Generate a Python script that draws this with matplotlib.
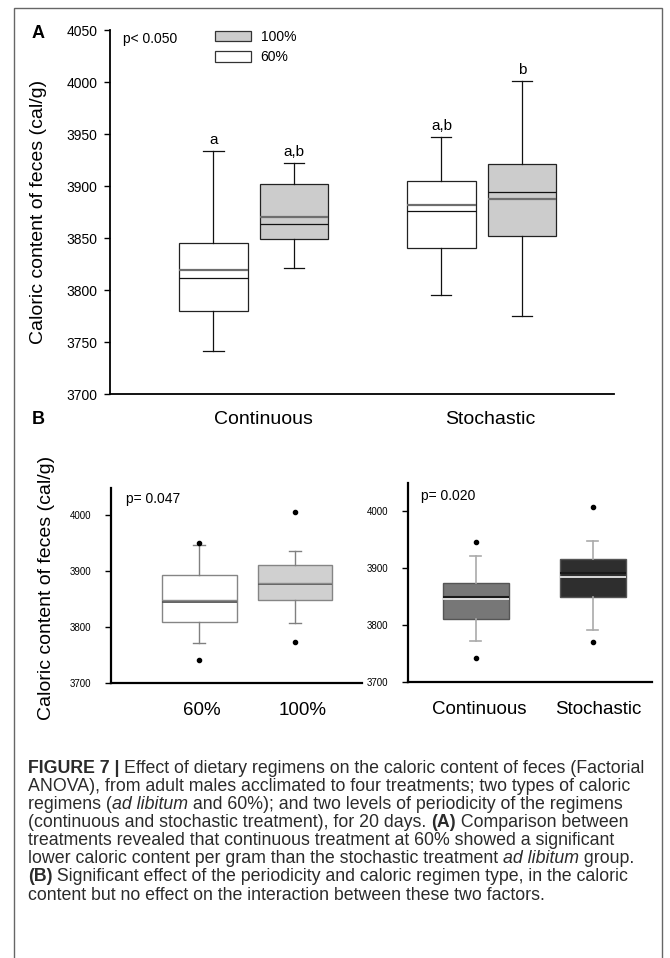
import matplotlib
matplotlib.use("Agg")
import matplotlib.pyplot as plt
import numpy as np
from matplotlib.patches import Patch, Rectangle

plt.rcParams["font.family"] = ["Liberation Sans", "DejaVu Sans"]

W, H = 670, 958

# ---- Panel A: periodicity x caloric regimen (4 treatments) ----
groups_a = ["Continuous", "Stochastic"]
regimens_a = ["60%", "100%"]
# order: Continuous 60%, Continuous 100%, Stochastic 60%, Stochastic 100%
whislo_a = [3741.3, 3820.8, 3794.9, 3775.3]
q1_a = [3779.5, 3848.7, 3840.7, 3851.9]
med_a = [3811.2, 3863.5, 3876.3, 3893.9]
mean_a = [3819.6, 3870.2, 3881.7, 3887.5]
q3_a = [3845.2, 3902.2, 3904.8, 3921.5]
whishi_a = [3933.3, 3922.1, 3946.8, 4001.0]
letters_a = ["a", "a,b", "a,b", "b"]

# ---- Panel B left: caloric regimen ----
labels_b1 = ["60%", "100%"]
whislo_b1 = [3771.4, 3807.1]
q1_b1 = [3808.9, 3848.2]
med_b1 = [3844.6, 3876.5]
mean_b1 = [3847.6, 3878.5]
q3_b1 = [3892.3, 3910.7]
whishi_b1 = [3945.8, 3935.1]
fliers_b1 = [[3741.7, 3949.4], [3773.8, 4005.4]]

# ---- Panel B right: periodicity ----
labels_b2 = ["Continuous", "Stochastic"]
whislo_b2 = [3771.5, 3791.4]
q1_b2 = [3810.7, 3850.0]
med_b2 = [3848.8, 3891.6]
mean_b2 = [3845.9, 3884.0]
q3_b2 = [3874.6, 3916.2]
whishi_b2 = [3920.9, 3948.4]
fliers_b2 = [[3741.6, 3945.5], [3770.3, 4008.2]]


def make_stats(whislo, q1, med, mean, q3, whishi, fliers=None):
    stats = []
    for i in range(len(med)):
        stats.append(dict(whislo=whislo[i], q1=q1[i], med=med[i], mean=mean[i], q3=q3[i],
                          whishi=whishi[i], fliers=fliers[i] if fliers else []))
    return stats


def px_axes(fig, left, top, right, bottom):
    return fig.add_axes([left / W, 1 - bottom / H, (right - left) / W, (bottom - top) / H])


def text_width(fig, s, **kw):
    r = fig.canvas.get_renderer()
    t1 = fig.text(0, 0, "|" + s + "|", **kw)
    t2 = fig.text(0, 0, "||", **kw)
    w = t1.get_window_extent(r).width - t2.get_window_extent(r).width
    t1.remove()
    t2.remove()
    return w


def draw_runs(fig, x_px, y_px, runs, size, color):
    x = x_px
    for text, style in runs:
        kw = dict(fontsize=size, color=color, **style)
        fig.text(x / W, 1 - y_px / H, text, ha="left", va="center", **kw)
        x += text_width(fig, text, **kw)


fig = plt.figure(figsize=(W / 100, H / 100), dpi=100)

# outer frame
fig.add_artist(Rectangle((14 / W, -0.05), (662 - 14) / W, 1 - 8 / H + 0.05,
                         transform=fig.transFigure, fill=False, edgecolor="#666666", lw=1))

# ================= Panel A =================
ax = px_axes(fig, 110, 30, 614, 394)
offset = 0.177
pos_a = [g + s for g in (1, 2) for s in (-offset, offset)]
fills_a = ["white", "#cccccc", "white", "#cccccc"]
bp = ax.bxp(make_stats(whislo_a, q1_a, med_a, mean_a, q3_a, whishi_a), positions=pos_a,
            widths=0.30, capwidths=0.088, patch_artist=True, showmeans=True, meanline=True,
            showfliers=False,
            boxprops=dict(edgecolor="#222222", lw=0.9),
            whiskerprops=dict(color="#111111", lw=0.9),
            capprops=dict(color="#111111", lw=0.9),
            medianprops=dict(color="#111111", lw=0.9),
            meanprops=dict(color="#6e6e6e", lw=1.6, linestyle="-"))
for box, fc in zip(bp["boxes"], fills_a):
    box.set_facecolor(fc)
for p, top, lab in zip(pos_a, whishi_a, letters_a):
    ax.text(p, top + 7, lab, ha="center", va="baseline", fontsize=11)

ax.set_xlim(0.369, 2.58)
ax.set_ylim(3700, 4050)
ax.set_yticks(np.arange(3700, 4051, 50))
ax.set_xticks([1.04, 2.035])
ax.set_xticklabels(groups_a, fontsize=14)
ax.tick_params(axis="x", length=0, pad=12)
ax.tick_params(axis="y", direction="out", length=4, width=1, labelsize=10, pad=5)
for side in ("top", "right"):
    ax.spines[side].set_visible(False)
for side in ("left", "bottom"):
    ax.spines[side].set_linewidth(1.3)
ax.text(0.026, 0.975, "p< 0.050", transform=ax.transAxes, fontsize=10, va="center")
handles = [Patch(facecolor="#cccccc", edgecolor="#333333", lw=0.9, label=regimens_a[1]),
           Patch(facecolor="white", edgecolor="#333333", lw=0.9, label=regimens_a[0])]
ax.legend(handles=handles, loc="upper left", bbox_to_anchor=(0.208, 1.0), frameon=False,
          fontsize=10, handlelength=2.6, handleheight=0.8, handletextpad=0.7,
          labelspacing=0.45, borderpad=0, borderaxespad=0)

fig.text(39 / W, 1 - 212 / H, "Caloric content of feces (cal/g)", rotation=90,
         ha="center", va="center", fontsize=14)
fig.text(38 / W, 1 - 34 / H, "A", ha="center", va="center", fontsize=13, fontweight="bold")

# ================= Panel B =================
fig.text(38 / W, 1 - 420 / H, "B", ha="center", va="center", fontsize=13, fontweight="bold")
fig.text(47 / W, 1 - 588 / H, "Caloric content of feces (cal/g)", rotation=90,
         ha="center", va="center", fontsize=14)

# left: caloric regimen
ax1 = px_axes(fig, 111, 488, 362, 683)
fills_b1 = ["white", "#d0d0d0"]
bp1 = ax1.bxp(make_stats(whislo_b1, q1_b1, med_b1, mean_b1, q3_b1, whishi_b1, fliers_b1),
              positions=[1, 2], widths=0.78, capwidths=0.125, patch_artist=True,
              showmeans=True, meanline=True,
              boxprops=dict(edgecolor="#858585", lw=1.0),
              whiskerprops=dict(color="#808080", lw=1.0),
              capprops=dict(color="#808080", lw=1.0),
              medianprops=dict(color="#555555", lw=1.3),
              meanprops=dict(color="#8a8a8a", lw=1.0, linestyle="-"),
              flierprops=dict(marker="o", markersize=3, markerfacecolor="black",
                              markeredgecolor="black"))
for box, fc in zip(bp1["boxes"], fills_b1):
    box.set_facecolor(fc)
ax1.set_xlim(0.08, 2.698)
ax1.set_ylim(3700, 4048)
ax1.set_yticks(np.arange(3700, 4001, 100))
ax1.set_xticks([1.03, 2.08])
ax1.set_xticklabels(labels_b1, fontsize=13.5)
ax1.text(0.061, 0.945, "p= 0.047", transform=ax1.transAxes, fontsize=10, va="center")

# right: periodicity
ax2 = px_axes(fig, 408, 483, 652, 682)
fills_b2 = ["#777777", "#2e2e2e"]
bp2 = ax2.bxp(make_stats(whislo_b2, q1_b2, med_b2, mean_b2, q3_b2, whishi_b2, fliers_b2),
              positions=[1, 2], widths=0.57, capwidths=0.094, patch_artist=True,
              showmeans=True, meanline=True,
              boxprops=dict(edgecolor="#555555", lw=1.0),
              whiskerprops=dict(color="#aaaaaa", lw=1.2),
              capprops=dict(color="#aaaaaa", lw=1.2),
              medianprops=dict(color="#1a1a1a", lw=1.5),
              meanprops=dict(color="#e6e6e6", lw=1.3, linestyle="-"),
              flierprops=dict(marker="o", markersize=3, markerfacecolor="black",
                              markeredgecolor="black"))
for box, fc in zip(bp2["boxes"], fills_b2):
    box.set_facecolor(fc)
ax2.set_xlim(0.419, 2.506)
ax2.set_ylim(3700, 4050)
ax2.set_yticks(np.arange(3700, 4001, 100))
ax2.set_xticks([1.03, 2.05])
ax2.set_xticklabels(labels_b2, fontsize=13.5)
ax2.text(0.054, 0.933, "p= 0.020", transform=ax2.transAxes, fontsize=10, va="center")

for a in (ax1, ax2):
    for side in ("top", "right"):
        a.spines[side].set_visible(False)
    for side in ("left", "bottom"):
        a.spines[side].set_linewidth(1.6)
    a.tick_params(axis="x", length=0, pad=14)
    a.tick_params(axis="y", direction="out", length=4, width=1, labelsize=7, pad=10)

# ================= Caption =================
B = dict(fontweight="bold")
I = dict(fontstyle="italic")
N = dict()
caption = [
    [("FIGURE 7 | ", B), ("Effect of dietary regimens on the caloric content of feces (Factorial", N)],
    [("ANOVA), from adult males acclimated to four treatments; two types of caloric", N)],
    [("regimens (", N), ("ad libitum", I), (" and 60%); and two levels of periodicity of the regimens", N)],
    [("(continuous and stochastic treatment), for 20 days. ", N), ("(A)", B), (" Comparison between", N)],
    [("treatments revealed that continuous treatment at 60% showed a significant", N)],
    [("lower caloric content per gram than the stochastic treatment ", N), ("ad libitum", I), (" group.", N)],
    [("(B)", B), (" Significant effect of the periodicity and caloric regimen type, in the caloric", N)],
    [("content but no effect on the interaction between these two factors.", N)],
]
for k, runs in enumerate(caption):
    draw_runs(fig, 28, 768.3 + k * 18.1, runs, 12.8, "#2b2b2b")

fig.savefig("out.png", dpi=100)
